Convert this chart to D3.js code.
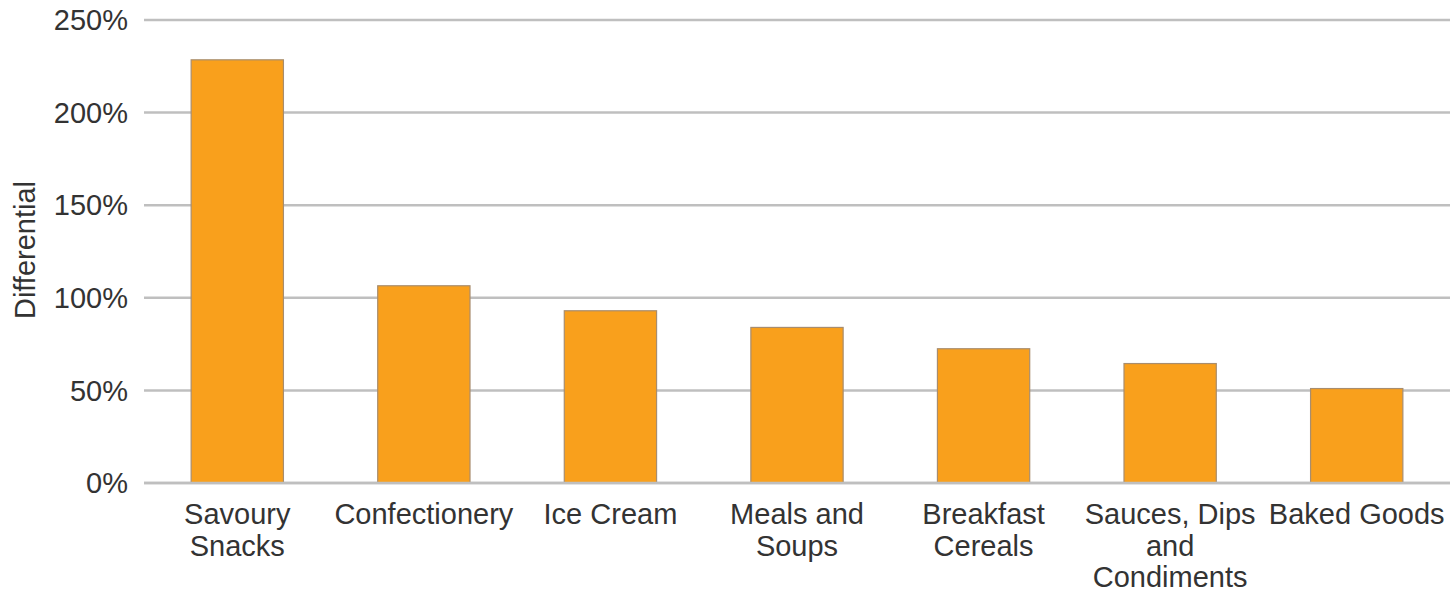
<!DOCTYPE html>
<html>
<head>
<meta charset="utf-8">
<script src="https://cdn.jsdelivr.net/npm/d3@7"></script>
<style>
html,body{margin:0;padding:0;background:#fff;}
svg{display:block;}
text{font-family:"Liberation Sans", Arial, sans-serif;fill:#333;}
</style>
</head>
<body>
<svg id="chart" width="1450" height="594"></svg>
<script>
const categories = ["Savoury Snacks","Confectionery","Ice Cream","Meals and Soups","Breakfast Cereals","Sauces, Dips and Condiments","Baked Goods"];
const categoryLabelLines = [["Savoury","Snacks"],["Confectionery"],["Ice Cream"],["Meals and","Soups"],["Breakfast","Cereals"],["Sauces, Dips","and","Condiments"],["Baked Goods"]];
const differential = [228.5, 106.5, 93, 84, 72.5, 64.5, 51];
const yTicks = [0, 50, 100, 150, 200, 250];
const yTitle = "Differential";

const svg = d3.select("#chart");
const plot = {left:144, right:1450, top:20, bottom:483};

const x = d3.scaleBand().domain(categories).range([plot.left, plot.right]).paddingInner(0.5).paddingOuter(0.25);
const y = d3.scaleLinear().domain([0,250]).range([plot.bottom, plot.top]);

// gridlines
svg.append("g").selectAll("line").data(yTicks).join("line")
  .attr("x1", plot.left).attr("x2", plot.right)
  .attr("y1", d=>y(d)).attr("y2", d=>y(d))
  .attr("stroke", "#bfbfbf").attr("stroke-width", 2.5);

// y tick labels
svg.append("g").selectAll("text").data(yTicks).join("text")
  .attr("x", 128).attr("y", d=>y(d)).attr("dy","0.35em")
  .attr("text-anchor","end").attr("font-size", 29)
  .text(d=>d+"%");

// bars
svg.append("g").selectAll("rect").data(categories).join("rect")
  .attr("x", d=>x(d)+0.5).attr("width", x.bandwidth()-1)
  .attr("y", (d,i)=>y(differential[i]))
  .attr("height", (d,i)=>y(0)-y(differential[i]))
  .attr("fill", "#f9a01c").attr("stroke", "#a88d6e").attr("stroke-width", 1.2);

// baseline
svg.append("line").attr("x1", plot.left).attr("x2", plot.right)
  .attr("y1", y(0)).attr("y2", y(0)).attr("stroke", "#bfbfbf").attr("stroke-width", 2.5);

// x labels
const xl = svg.append("g").selectAll("text").data(categories).join("text")
  .attr("text-anchor","middle").attr("font-size", 29)
  .attr("transform", d=>`translate(${x(d)+x.bandwidth()/2},524)`);
xl.each(function(d,i){
  const t = d3.select(this);
  categoryLabelLines[i].forEach((ln,j)=>{
    t.append("tspan").attr("x",0).attr("y", j*31.5).text(ln);
  });
});

// y title
svg.append("text").attr("transform","translate(35,250) rotate(-90)")
  .attr("text-anchor","middle").attr("font-size", 29).text(yTitle);
</script>
</body>
</html>
